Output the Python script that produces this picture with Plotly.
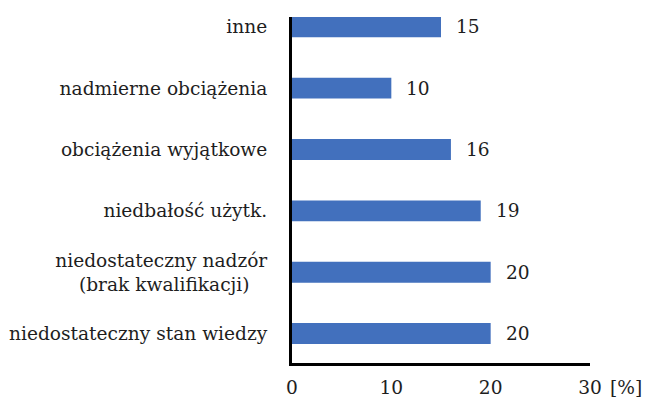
import plotly.graph_objects as go

categories = [
    "niedostateczny stan wiedzy",
    "niedostateczny nadzór<br>(brak kwalifikacji)",
    "niedbałość użytk.",
    "obciążenia wyjątkowe",
    "nadmierne obciążenia",
    "inne",
]
values = [20, 20, 19, 16, 10, 15]
x_ticks = [0, 10, 20, 30]
x_unit = "[%]"

FONT = "DejaVu Serif"
FS = 18.6
TXT = "#1e1e1e"

# second line of a two-line label is centred under the first in the reference
tick_text = [c + "\u00a0\u00a0\u00a0" if "<br>" in c else c for c in categories]

fig = go.Figure()
fig.add_trace(go.Bar(
    y=categories, x=values, orientation="h",
    marker=dict(color="#4270BD", line=dict(width=0)),
    width=0.34, hoverinfo="skip",
))

for c, v in zip(categories, values):
    fig.add_annotation(x=v, y=c, xref="x", yref="y", text=str(v),
                       showarrow=False, xanchor="left", xshift=13,
                       font=dict(family=FONT, size=FS, color=TXT))

fig.add_annotation(x=30, y=0, xref="x", yref="paper", text=x_unit,
                   showarrow=False, xanchor="left", yanchor="top",
                   xshift=18, yshift=-12,
                   font=dict(family=FONT, size=FS, color=TXT))

fig.update_layout(
    width=653, height=402,
    margin=dict(l=292, r=63, t=17, b=39, autoexpand=False),
    plot_bgcolor="white", paper_bgcolor="white",
    showlegend=False,
    font=dict(family=FONT, size=FS, color=TXT),
)
fig.update_xaxes(
    range=[0, 30], tickvals=x_ticks, showgrid=False, zeroline=False,
    showline=True, linecolor="black", linewidth=2.5,
    ticks="", ticklabelstandoff=6, automargin=False,
    tickfont=dict(family=FONT, size=FS, color=TXT),
)
fig.update_yaxes(
    type="category", categoryorder="array", categoryarray=categories,
    tickvals=categories, ticktext=tick_text,
    range=[-0.48, 5.16], showgrid=False, zeroline=False,
    showline=True, linecolor="black", linewidth=3,
    ticks="", ticklabelstandoff=18, automargin=False,
    tickfont=dict(family=FONT, size=FS, color=TXT),
)

fig.write_html("out.html")
